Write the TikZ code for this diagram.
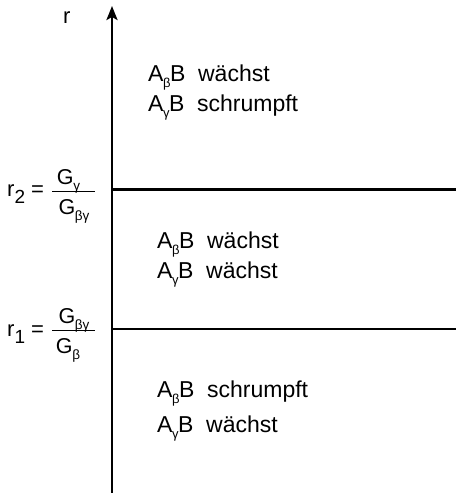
\documentclass[tikz,border=0pt]{standalone}
\usepackage{fontspec}
\setmainfont{Liberation Sans}
\usetikzlibrary{arrows.meta}
\tikzset{
  lbl/.style={font=\fontsize{23}{27}\selectfont, inner sep=0pt, anchor=base west},
  rsym/.style={font=\fontsize{22}{26}\selectfont, inner sep=0pt, anchor=base west},
  fracpart/.style={font=\fontsize{21.5}{25}\selectfont, inner sep=0pt, anchor=base},
  fracrule/.style={line width=1.5pt},
  boundary/.style={line width=2.6pt},
  axisline/.style={line width=2.6pt, -{Stealth[length=14pt,width=11pt,inset=3pt]}}
}
% small lowered indices
\newcommand{\ix}[1]{\kern-0.5pt\raisebox{-0.3em}{\fontsize{13}{13}\selectfont #1}\kern-0.5pt}
\newcommand{\fx}[1]{\kern-0.3pt\raisebox{-0.3em}{\fontsize{13.5}{13.5}\selectfont #1}}
\newcommand{\rx}[1]{\raisebox{-0.32em}{\fontsize{19}{19}\selectfont #1}}
\begin{document}
\begin{tikzpicture}[x=1pt,y=-1pt]
  \useasboundingbox (0,0) rectangle (456,493);
  % r axis
  \coordinate (bot) at (112,493);
  \coordinate (top) at (112,6);
  \draw[axisline] (bot) -- (top);
  \node[rsym] (rlab) at (63,23) {r};
  % region boundaries
  \coordinate (b2l) at (112,189.5);
  \coordinate (b2r) at (456,189.5);
  \coordinate (b1l) at (112,329);
  \coordinate (b1r) at (456,329);
  \draw[boundary] (b2l) -- (b2r);
  \draw[boundary] (b1l) -- (b1r);
  % r2 = G_gamma / G_betagamma
  \node[rsym] (r2) at (7,196) {r\rx{2} =};
  \node[fracpart] (n2) at (68.5,184) {G\fx{γ}};
  \node[fracpart] (d2) at (74,214) {G\fx{βγ}};
  \coordinate (f2a) at (52,191.5);
  \coordinate (f2b) at (95,191.5);
  \draw[fracrule] (f2a) -- (f2b);
  % r1 = G_betagamma / G_beta
  \node[rsym] (r1) at (7,336) {r\rx{1} =};
  \node[fracpart] (n1) at (74,323) {G\fx{βγ}};
  \node[fracpart] (d1) at (68,353) {G\fx{β}};
  \coordinate (f1a) at (52,330.5);
  \coordinate (f1b) at (95,330.5);
  \draw[fracrule] (f1a) -- (f1b);
  % region texts
  \node[lbl] (t1) at (148,81) {A\ix{β}B\ \ wächst};
  \node[lbl] (t2) at (148,111) {A\ix{γ}B\ \ schrumpft};
  \node[lbl] (m1) at (157,248) {A\ix{β}B\ \ wächst};
  \node[lbl] (m2) at (157,278) {A\ix{γ}B\ \ wächst};
  \node[lbl] (u1) at (157,397) {A\ix{β}B\ \ schrumpft};
  \node[lbl] (u2) at (157,432) {A\ix{γ}B\ \ wächst};
\end{tikzpicture}
\end{document}
